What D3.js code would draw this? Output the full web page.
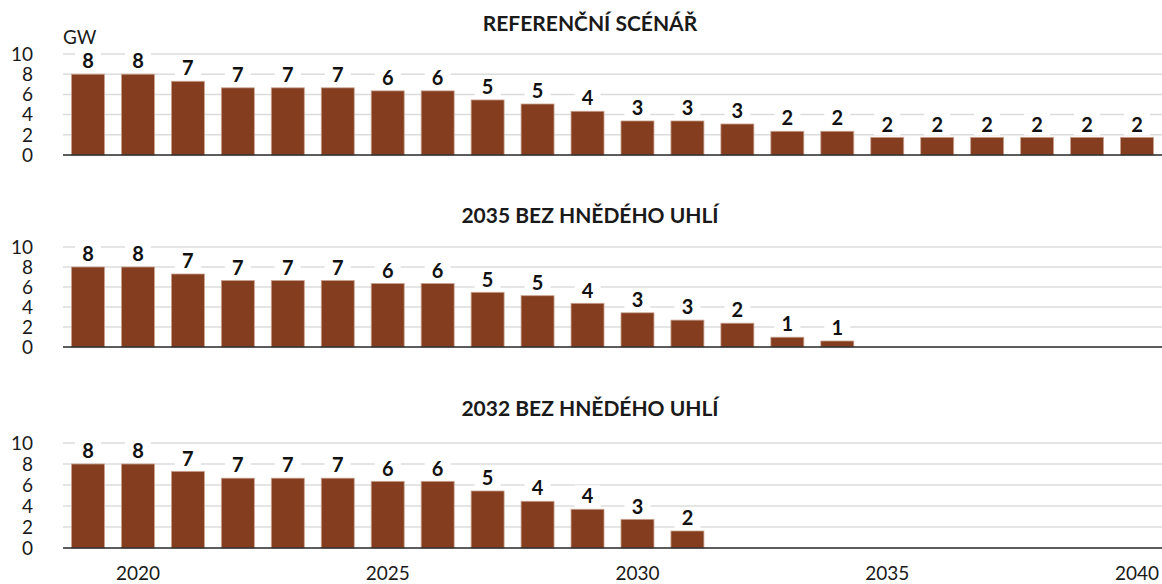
<!DOCTYPE html>
<html><head><meta charset="utf-8">
<script src="https://cdn.jsdelivr.net/npm/d3@7"></script>
<style>
html,body{margin:0;padding:0;background:#fff;}
svg{display:block;font-family:Lato,"Open Sans",sans-serif;}
</style></head>
<body>
<svg id="chart" width="1162" height="584"></svg>
<script>
const years = [2019,2020,2021,2022,2023,2024,2025,2026,2027,2028,2029,2030,2031,2032,2033,2034,2035,2036,2037,2038,2039,2040];
const panelTitles = ["REFERENČNÍ SCÉNÁŘ", "2035 BEZ HNĚDÉHO UHLÍ", "2032 BEZ HNĚDÉHO UHLÍ"];
const referenceValues = [8.0,8.0,7.3,6.65,6.65,6.65,6.35,6.35,5.45,5.05,4.33,3.37,3.37,3.07,2.35,2.35,1.75,1.75,1.75,1.75,1.75,1.75];
const exit2035Values = [8.0,8.0,7.3,6.65,6.65,6.65,6.35,6.35,5.47,5.13,4.37,3.42,2.69,2.38,0.98,0.6,null,null,null,null,null,null];
const exit2032Values = [8.0,8.0,7.3,6.65,6.65,6.65,6.35,6.35,5.43,4.45,3.69,2.73,1.62,null,null,null,null,null,null,null,null,null];
const yTicks = [0,2,4,6,8,10];
const xTickLabels = [2020,2025,2030,2035,2040];
const unitLabel = "GW";

const series = [referenceValues, exit2035Values, exit2032Values];
const panels = [
  {y0:155, y10:54, titleY:31},
  {y0:347, y10:247, titleY:223},
  {y0:548, y10:443, titleY:416}
];

const svg = d3.select("#chart");
const left = 63, right = 1162;
const x = d3.scaleBand().domain(years).range([left, right]).paddingInner(0.34).paddingOuter(0.17);
const barColor = "#843d1f";

panels.forEach((p, i) => {
  const y = d3.scaleLinear().domain([0,10]).range([p.y0, p.y10]);
  const g = svg.append("g");
  g.append("text").attr("x", 590).attr("y", p.titleY).attr("text-anchor","middle")
    .attr("font-weight","bold").attr("font-size",21).attr("fill","#1a1a1a").text(panelTitles[i]);
  g.selectAll("line.grid").data(yTicks.filter(t=>t>0)).join("line")
    .attr("x1",left).attr("x2",right).attr("y1",d=>y(d)).attr("y2",d=>y(d))
    .attr("stroke","#dcdcdc").attr("stroke-width",1.5);
  g.selectAll("text.yt").data(yTicks).join("text")
    .attr("x",33).attr("y",d=>y(d)).attr("dy","0.36em").attr("text-anchor","end")
    .attr("font-size",19).attr("fill","#1a1a1a").text(d=>d);
  const data = years.map((yr,k)=>({yr, v:series[i][k]})).filter(d=>d.v!=null);
  g.selectAll("rect.bar").data(data).join("rect")
    .attr("x",d=>x(d.yr)).attr("width",x.bandwidth())
    .attr("y",d=>y(d.v)).attr("height",d=>y(0)-y(d.v))
    .attr("fill",barColor).attr("stroke","#c9a28f").attr("stroke-width",0.8);
  g.append("line").attr("x1",left).attr("x2",right).attr("y1",y(0)).attr("y2",y(0))
    .attr("stroke","#262626").attr("stroke-width",1.5);
  const lab = g.selectAll("g.lab").data(data).join("g")
    .attr("transform",d=>`translate(${x(d.yr)+x.bandwidth()/2},${y(d.v)-13})`);
  lab.append("rect").attr("x",-13).attr("y",-11).attr("width",26).attr("height",22).attr("fill","#fff");
  lab.append("text").attr("text-anchor","middle").attr("dy","0.36em")
    .attr("font-weight","bold").attr("font-size",20).attr("fill","#111").text(d=>Math.round(d.v));
  if (i===0) {
    g.append("text").attr("x",63).attr("y",44).attr("font-size",19).attr("fill","#1a1a1a").text(unitLabel);
  }
  if (i===2) {
    g.selectAll("text.xt").data(xTickLabels).join("text")
      .attr("x",d=>x(d)+x.bandwidth()/2).attr("y",580).attr("text-anchor","middle")
      .attr("font-size",19).attr("fill","#1a1a1a").text(d=>d);
  }
});
</script>
</body></html>
